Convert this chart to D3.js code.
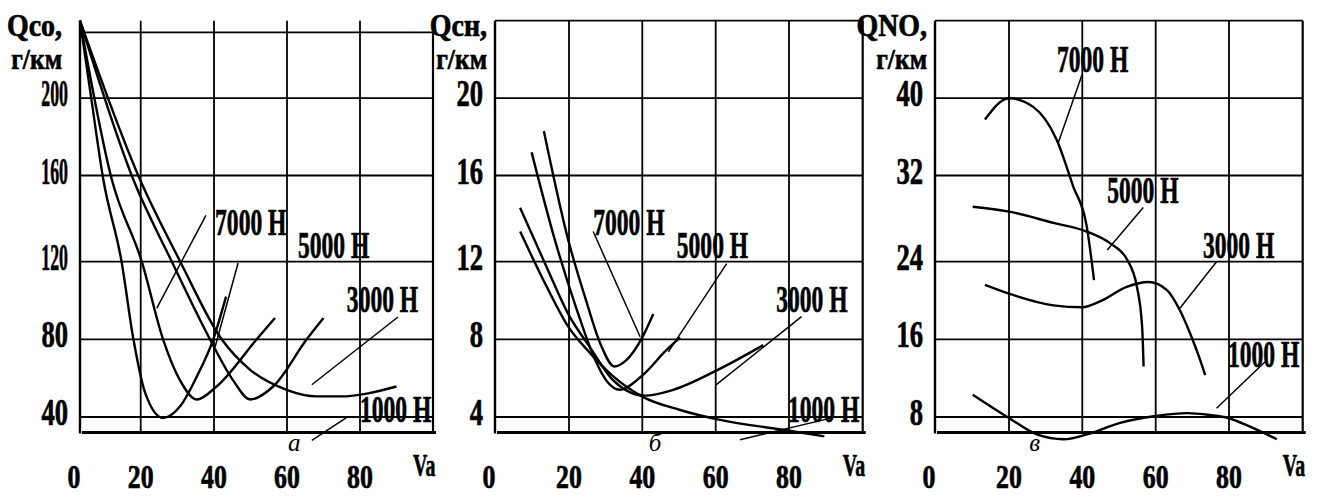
<!DOCTYPE html>
<html>
<head>
<meta charset="utf-8">
<script src="https://cdn.jsdelivr.net/npm/d3@7"></script>
<style>
  body { margin: 0; background: #fff; }
  svg { display: block; }
  text { font-family: "Liberation Serif", "Times New Roman", serif; font-weight: bold; fill: #000; stroke: #000; stroke-width: 0.7px; }
  .letter { font-weight: normal; font-style: italic; stroke: none; }
</style>
</head>
<body>
<svg id="chart" width="1320" height="496"></svg>
<script>
// speed Va, km/h
var speedTicks = [0, 20, 40, 60, 80];
var loadLabels = ['7000 Н', '5000 Н', '3000 Н', '1000 Н'];

// а) CO, g/km  -- [Va, Q]
var coTicks = [40, 80, 120, 160, 200];
var co7000 = [[0, 240], [3.7, 200], [7.7, 158], [13.7, 120], [17.6, 80], [21.2, 52.5], [26.1, 39.5], [30.7, 45.4], [35.3, 60.8], [39.8, 80], [43.3, 102]];
var co5000 = [[0, 240], [10.5, 158], [20.3, 120], [26.1, 80], [30.7, 59], [35.3, 49], [40.7, 55.7], [51.7, 80], [56.7, 91]];
var co3000 = [[0, 240], [17.6, 158], [28.5, 120], [38.9, 80], [45.2, 59], [49.9, 49], [56.2, 55.7], [65.4, 80], [70, 91]];
var co1000 = [[0, 240], [19.8, 158], [30.8, 120], [42.1, 80], [49.9, 64.3], [59.9, 54], [68.1, 50.6], [74.5, 50.6], [90, 55.7]];

// б) CH, g/km
var chTicks = [4, 8, 12, 16, 20];
var ch7000 = [[13.2, 18.3], [19.8, 13.0], [24.5, 10.1], [28.5, 7.8], [32.4, 6.6], [35.5, 6.9], [40, 8.1], [43, 9.3]];
var ch5000 = [[9.9, 17.2], [16.2, 13.0], [22, 9.6], [27, 7.0], [30.5, 5.8], [33.8, 5.4], [39.8, 6.1], [46.6, 7.45], [50.3, 8.1]];
var ch3000 = [[6.8, 14.5], [14, 11.7], [19.8, 9.3], [25.7, 7.6], [32, 5.9], [40.7, 5.1], [48.4, 5.4], [60.3, 6.4], [73, 7.7]];
var ch1000 = [[6.8, 13.4], [14, 10.7], [19.8, 8.65], [25.7, 7.3], [32, 6.1], [40, 5.05], [50.3, 4.36], [61.2, 3.85], [78.4, 3.34], [89.6, 3.0]];

// в) NO, g/km
var noTicks = [8, 16, 24, 32, 40];
var no7000 = [[13.5, 37.8], [20, 40], [26.6, 39.1], [33, 35.7], [37.5, 31], [41.2, 27.3], [43.2, 22.1]];
var no5000 = [[10.2, 29.1], [20, 28.65], [32.1, 27.6], [41.2, 26.8], [47.6, 25.7], [52.2, 24.2], [54.9, 21.4], [56.3, 17.3], [56.7, 13.2]];
var no3000 = [[13.5, 21.6], [20, 20.7], [32.1, 19.5], [40, 19.3], [44.8, 19.9], [52.1, 21.4], [58, 21.9], [63, 21.1], [66.6, 19], [69.4, 16.6], [72.1, 13.9], [73.5, 12.3]];
var no1000 = [[10.2, 10.3], [20, 7.9], [27.6, 6.2], [34.9, 5.7], [41.2, 6.2], [50.3, 7.4], [60, 8.1], [68.5, 8.4], [74.8, 8.2], [79.8, 7.9], [85.7, 7.0], [93, 5.7]];

// layout of the three scanned panels
var speedDomain = [0, 20, 40, 60, 80, 100];
var yPx = [432.5, 417, 339.3, 261.7, 175.5, 98.2, 20.7];

var panels = [
  {
    title: ['Qco,', 'г/км'], titleDx: -18, letter: 'а', letterVa: 62,
    ticks: coTicks, series: [co7000, co5000, co3000, co1000],
    xRange: [80, 140.7, 214, 287, 360, 433],
    yDomain: [32, 40, 80, 120, 160, 200, 240], frameTop: 234,
    labelAt: [[40.3, 132.3], [63, 121.7], [76.4, 94.1], [80, 37.5]],
    leaders: [[[37.8, 141.5], [24.4, 96.1]], [[46.6, 119.3], [40.3, 76]], [[90.4, 91.5], [66.8, 56.6]], [[76.7, 40.2], [66.8, 27.9]]]
  },
  {
    title: ['Qcн,', 'г/км'], titleDx: -8, letter: 'б', letterVa: 43.5,
    ticks: chTicks, series: [ch7000, ch5000, ch3000, ch1000],
    xRange: [495, 569, 642.3, 715.7, 789, 862.7],
    yDomain: [3.2, 4, 8, 12, 16, 20, 24],
    labelAt: [[26.6, 13.24], [49.4, 12.17], [76.5, 9.4], [79.7, 3.75]],
    leaders: [[[26.6, 13.4], [39.4, 8.13]], [[63, 11.9], [47.1, 7.35]], [[83.4, 9.17], [60.1, 5.65]], [[91.1, 3.93], [66.6, 2.83]]]
  },
  {
    title: ['QNO,', 'г/км'], titleDx: -8, letter: 'в', letterVa: 27,
    ticks: noTicks, series: [no7000, no5000, no3000, no1000],
    xRange: [935, 1009, 1082.3, 1155.7, 1229, 1302.7],
    yDomain: [6.4, 8, 16, 24, 32, 40, 48],
    labelAt: [[33.1, 42.7], [46.8, 29.46], [72.9, 24.34], [79.7, 13.15]],
    leaders: [[[39.9, 42.4], [33.4, 35.35]], [[56.6, 29.04], [46.8, 25.09]], [[76.6, 24], [66.6, 19.2]], [[89.8, 13.69], [76.6, 8.9]]]
  }
];

var svg = d3.select('#chart');

panels.forEach(function (p) {
  var x = d3.scaleLinear().domain(speedDomain).range(p.xRange);
  var y = d3.scaleLinear().domain(p.yDomain).range(yPx);
  var yMin = p.yDomain[0], yMax = p.yDomain[p.yDomain.length - 1];
  var top = p.frameTop || yMax;
  var g = svg.append('g');

  // grid
  g.selectAll('line.v').data(speedTicks.slice(1)).join('line')
    .attr('x1', function (d) { return x(d); }).attr('x2', function (d) { return x(d); })
    .attr('y1', y(yMax)).attr('y2', y(yMin))
    .attr('stroke', '#000').attr('stroke-width', 1.8);
  g.selectAll('line.h').data(p.ticks.concat([top])).join('line')
    .attr('x1', x(0)).attr('x2', x(100))
    .attr('y1', function (d) { return y(d); }).attr('y2', function (d) { return y(d); })
    .attr('stroke', '#000').attr('stroke-width', 1.8);

  // frame
  g.append('line').attr('x1', x(0)).attr('x2', x(0)).attr('y1', y(yMax)).attr('y2', y(yMin) + 1)
    .attr('stroke', '#000').attr('stroke-width', 2.4);
  g.append('line').attr('x1', x(100)).attr('x2', x(100)).attr('y1', y(top)).attr('y2', y(yMin))
    .attr('stroke', '#000').attr('stroke-width', 2.2);
  g.append('line').attr('x1', x(0) + 2).attr('x2', x(100) + 3).attr('y1', y(yMin)).attr('y2', y(yMin))
    .attr('stroke', '#000').attr('stroke-width', 3);

  // curves
  var line = d3.line()
    .x(function (d) { return x(d[0]); })
    .y(function (d) { return y(d[1]); })
    .curve(d3.curveMonotoneX);
  g.selectAll('path.curve').data(p.series).join('path')
    .attr('d', line).attr('fill', 'none')
    .attr('stroke', '#000').attr('stroke-width', 2.4);

  // leaders and load labels
  g.selectAll('line.leader').data(p.leaders).join('line')
    .attr('x1', function (d) { return x(d[0][0]); }).attr('y1', function (d) { return y(d[0][1]); })
    .attr('x2', function (d) { return x(d[1][0]); }).attr('y2', function (d) { return y(d[1][1]); })
    .attr('stroke', '#000').attr('stroke-width', 1.5);
  g.selectAll('text.load').data(loadLabels).join('text')
    .attr('transform', function (d, i) {
      return 'translate(' + x(p.labelAt[i][0]) + ',' + y(p.labelAt[i][1]) + ') scale(0.62,1)';
    })
    .style('font-size', '38px')
    .text(function (d) { return d; });

  // axis labels
  g.selectAll('text.ytick').data(p.ticks).join('text')
    .attr('transform', function (d) {
      var sx = String(d).length > 2 ? 0.47 : 0.7;
      return 'translate(' + (x(0) - 12) + ',' + (y(d) + 8) + ') scale(' + sx + ',1)';
    })
    .attr('text-anchor', 'end').style('font-size', '38px')
    .text(function (d) { return d; });
  g.selectAll('text.xtick').data(speedTicks).join('text')
    .attr('transform', function (d) {
      return 'translate(' + (x(d) - (d === 0 ? 6 : 0)) + ',488) scale(0.76,1)';
    })
    .attr('text-anchor', 'middle').style('font-size', '34px')
    .text(function (d) { return d; });
  g.append('text')
    .attr('transform', 'translate(' + (x(100) - 20) + ',476) scale(0.62,1)')
    .style('font-size', '32px').text('Va');

  g.append('text')
    .attr('transform', 'translate(' + (x(0) + p.titleDx) + ',36) scale(0.9,1)')
    .attr('text-anchor', 'end').style('font-size', '31px').text(p.title[0]);
  g.append('text')
    .attr('transform', 'translate(' + (x(0) + p.titleDx) + ',69) scale(0.85,1)')
    .attr('text-anchor', 'end').style('font-size', '30px').text(p.title[1]);

  g.append('text').attr('class', 'letter')
    .attr('x', x(p.letterVa)).attr('y', 451)
    .attr('text-anchor', 'middle').style('font-size', '25px').text(p.letter);
});
</script>
</body>
</html>
